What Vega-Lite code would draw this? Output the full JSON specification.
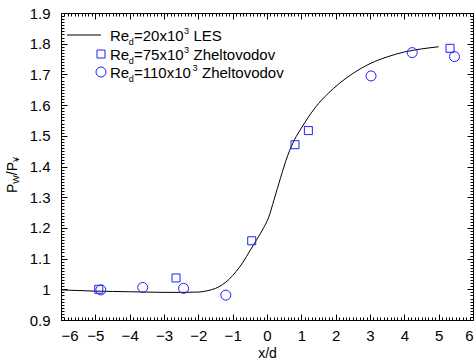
{
  "$schema": "https://vega.github.io/schema/vega-lite/v6.json",
  "width": 412,
  "height": 307,
  "autosize": {"type": "none"},
  "padding": {"left": 61, "top": 13, "right": 3, "bottom": 42},
  "background": "white",
  "config": {
    "view": {"stroke": "black", "strokeWidth": 1},
    "font": "Liberation Sans",
    "axis": {"grid": false, "domain": false, "labelColor": "black", "labelFont": "Liberation Sans", "labelFontSize": 15, "titleFont": "Liberation Sans", "titleFontSize": 15, "titleFontWeight": "normal", "titleColor": "black"}
  },
  "datasets": {
    "les": [
      {"x": -6, "y": 0.998}, {"x": -5.5, "y": 0.996}, {"x": -5, "y": 0.994}, {"x": -4.5, "y": 0.993}, {"x": -4, "y": 0.992}, {"x": -3.5, "y": 0.991}, {"x": -3, "y": 0.99}, {"x": -2.5, "y": 0.99}, {"x": -2, "y": 0.991}, {"x": -1.75, "y": 0.995}, {"x": -1.5, "y": 1.003}, {"x": -1.3, "y": 1.015}, {"x": -1.1, "y": 1.033}, {"x": -0.9, "y": 1.058}, {"x": -0.7, "y": 1.088}, {"x": -0.5, "y": 1.125}, {"x": -0.3, "y": 1.162}, {"x": -0.1, "y": 1.2}, {"x": 0.05, "y": 1.235}, {"x": 0.2, "y": 1.29}, {"x": 0.4, "y": 1.365}, {"x": 0.6, "y": 1.435}, {"x": 0.8, "y": 1.487}, {"x": 1.0, "y": 1.525}, {"x": 1.2, "y": 1.56}, {"x": 1.5, "y": 1.605}, {"x": 1.8, "y": 1.64}, {"x": 2.1, "y": 1.67}, {"x": 2.5, "y": 1.703}, {"x": 3.0, "y": 1.735}, {"x": 3.5, "y": 1.757}, {"x": 4.0, "y": 1.773}, {"x": 4.5, "y": 1.783}, {"x": 5.0, "y": 1.79}
    ],
    "sq": [
      {"x": -4.9, "y": 1.0}, {"x": -2.65, "y": 1.037}, {"x": -0.445, "y": 1.158}, {"x": 0.816, "y": 1.471}, {"x": 1.205, "y": 1.517}, {"x": 5.33, "y": 1.785}
    ],
    "ci": [
      {"x": -4.84, "y": 0.998}, {"x": -3.62, "y": 1.006}, {"x": -2.43, "y": 1.003}, {"x": -1.2, "y": 0.981}, {"x": 3.03, "y": 1.695}, {"x": 4.23, "y": 1.771}, {"x": 5.46, "y": 1.758}
    ],
    "one": [{"k": 1}]
  },
  "layer": [
    {
      "data": {"name": "les"},
      "mark": {"type": "line", "color": "black", "strokeWidth": 1, "interpolate": "monotone"},
      "encoding": {
        "x": {"field": "x", "type": "quantitative", "scale": {"domain": [-6, 6], "nice": false, "zero": false},
          "axis": {"orient": "bottom", "values": [-6, -5, -4, -3, -2, -1, 0, 1, 2, 3, 4, 5, 6], "ticks": true, "tickSize": -6, "tickColor": "black", "tickOpacity": 1, "tickWidth": 1, "zindex": 1, "labelPadding": 14, "title": "x/d", "titleFontSize": 14, "titlePadding": 3, "format": "d"}},
        "y": {"field": "y", "type": "quantitative", "scale": {"domain": [0.9, 1.9], "nice": false, "zero": false},
          "axis": {"orient": "left", "values": [0.9, 1.0, 1.1, 1.2, 1.3, 1.4, 1.5, 1.6, 1.7, 1.8, 1.9], "ticks": true, "tickSize": -6, "tickColor": "black", "tickOpacity": 1, "tickWidth": 1, "zindex": 1, "labelPadding": 17, "title": null, "format": "~g"}}
      }
    },
    {
      "data": {"name": "sq"},
      "mark": {"type": "point", "shape": "square", "size": 64, "filled": false, "stroke": "#1f1fff", "strokeWidth": 1, "opacity": 1},
      "encoding": {
        "x": {"field": "x", "type": "quantitative", "axis": {"orient": "top", "values": [-6, -5, -4, -3, -2, -1, 0, 1, 2, 3, 4, 5, 6], "ticks": true, "tickSize": -6, "tickColor": "black", "tickOpacity": 1, "tickWidth": 1, "zindex": 1, "labels": false, "title": null}},
        "y": {"field": "y", "type": "quantitative", "axis": {"orient": "right", "values": [0.9, 1.0, 1.1, 1.2, 1.3, 1.4, 1.5, 1.6, 1.7, 1.8, 1.9], "ticks": true, "tickSize": -6, "tickColor": "black", "tickOpacity": 1, "tickWidth": 1, "zindex": 1, "labels": false, "title": null}}
      }
    },
    {
      "data": {"name": "ci"},
      "mark": {"type": "point", "shape": "circle", "size": 100, "filled": false, "stroke": "#1f1fff", "strokeWidth": 1, "opacity": 1},
      "encoding": {
        "x": {"field": "x", "type": "quantitative", "axis": {"orient": "bottom", "values": [-6,-5.9,-5.8,-5.7,-5.6,-5.5,-5.4,-5.3,-5.2,-5.1,-5,-4.9,-4.8,-4.7,-4.6,-4.5,-4.4,-4.3,-4.2,-4.1,-4,-3.9,-3.8,-3.7,-3.6,-3.5,-3.4,-3.3,-3.2,-3.1,-3,-2.9,-2.8,-2.7,-2.6,-2.5,-2.4,-2.3,-2.2,-2.1,-2,-1.9,-1.8,-1.7,-1.6,-1.5,-1.4,-1.3,-1.2,-1.1,-1,-0.9,-0.8,-0.7,-0.6,-0.5,-0.4,-0.3,-0.2,-0.1,0,0.1,0.2,0.3,0.4,0.5,0.6,0.7,0.8,0.9,1,1.1,1.2,1.3,1.4,1.5,1.6,1.7,1.8,1.9,2,2.1,2.2,2.3,2.4,2.5,2.6,2.7,2.8,2.9,3,3.1,3.2,3.3,3.4,3.5,3.6,3.7,3.8,3.9,4,4.1,4.2,4.3,4.4,4.5,4.6,4.7,4.8,4.9,5,5.1,5.2,5.3,5.4,5.5,5.6,5.7,5.8,5.9,6], "ticks": true, "tickSize": -3, "tickColor": "black", "tickOpacity": 1, "tickWidth": 1, "zindex": 1, "labels": false, "title": null}},
        "y": {"field": "y", "type": "quantitative", "axis": {"orient": "left", "values": [0.9,0.91,0.92,0.93,0.94,0.95,0.96,0.97,0.98,0.99,1,1.01,1.02,1.03,1.04,1.05,1.06,1.07,1.08,1.09,1.1,1.11,1.12,1.13,1.14,1.15,1.16,1.17,1.18,1.19,1.2,1.21,1.22,1.23,1.24,1.25,1.26,1.27,1.28,1.29,1.3,1.31,1.32,1.33,1.34,1.35,1.36,1.37,1.38,1.39,1.4,1.41,1.42,1.43,1.44,1.45,1.46,1.47,1.48,1.49,1.5,1.51,1.52,1.53,1.54,1.55,1.56,1.57,1.58,1.59,1.6,1.61,1.62,1.63,1.64,1.65,1.66,1.67,1.68,1.69,1.7,1.71,1.72,1.73,1.74,1.75,1.76,1.77,1.78,1.79,1.8,1.81,1.82,1.83,1.84,1.85,1.86,1.87,1.88,1.89,1.9], "ticks": true, "tickSize": -3, "tickColor": "black", "tickOpacity": 1, "tickWidth": 1, "zindex": 1, "labels": false, "title": null}}
      }
    },
    {
      "data": {"name": "les"},
      "mark": {"type": "line", "color": "black", "strokeWidth": 1, "interpolate": "monotone", "opacity": 0},
      "encoding": {
        "x": {"field": "x", "type": "quantitative", "axis": {"orient": "top", "values": [-6,-5.9,-5.8,-5.7,-5.6,-5.5,-5.4,-5.3,-5.2,-5.1,-5,-4.9,-4.8,-4.7,-4.6,-4.5,-4.4,-4.3,-4.2,-4.1,-4,-3.9,-3.8,-3.7,-3.6,-3.5,-3.4,-3.3,-3.2,-3.1,-3,-2.9,-2.8,-2.7,-2.6,-2.5,-2.4,-2.3,-2.2,-2.1,-2,-1.9,-1.8,-1.7,-1.6,-1.5,-1.4,-1.3,-1.2,-1.1,-1,-0.9,-0.8,-0.7,-0.6,-0.5,-0.4,-0.3,-0.2,-0.1,0,0.1,0.2,0.3,0.4,0.5,0.6,0.7,0.8,0.9,1,1.1,1.2,1.3,1.4,1.5,1.6,1.7,1.8,1.9,2,2.1,2.2,2.3,2.4,2.5,2.6,2.7,2.8,2.9,3,3.1,3.2,3.3,3.4,3.5,3.6,3.7,3.8,3.9,4,4.1,4.2,4.3,4.4,4.5,4.6,4.7,4.8,4.9,5,5.1,5.2,5.3,5.4,5.5,5.6,5.7,5.8,5.9,6], "ticks": true, "tickSize": -3, "tickColor": "black", "tickOpacity": 1, "tickWidth": 1, "zindex": 1, "labels": false, "title": null}},
        "y": {"field": "y", "type": "quantitative", "axis": {"orient": "right", "values": [0.9,0.91,0.92,0.93,0.94,0.95,0.96,0.97,0.98,0.99,1,1.01,1.02,1.03,1.04,1.05,1.06,1.07,1.08,1.09,1.1,1.11,1.12,1.13,1.14,1.15,1.16,1.17,1.18,1.19,1.2,1.21,1.22,1.23,1.24,1.25,1.26,1.27,1.28,1.29,1.3,1.31,1.32,1.33,1.34,1.35,1.36,1.37,1.38,1.39,1.4,1.41,1.42,1.43,1.44,1.45,1.46,1.47,1.48,1.49,1.5,1.51,1.52,1.53,1.54,1.55,1.56,1.57,1.58,1.59,1.6,1.61,1.62,1.63,1.64,1.65,1.66,1.67,1.68,1.69,1.7,1.71,1.72,1.73,1.74,1.75,1.76,1.77,1.78,1.79,1.8,1.81,1.82,1.83,1.84,1.85,1.86,1.87,1.88,1.89,1.9], "ticks": true, "tickSize": -3, "tickColor": "black", "tickOpacity": 1, "tickWidth": 1, "zindex": 1, "labels": false, "title": null}}
      }
    },
    {
      "data": {"name": "one"},
      "mark": {"type": "rule", "color": "black", "strokeWidth": 1},
      "encoding": {"x": {"datum": -5.825, "type": "quantitative", "axis": null}, "x2": {"datum": -4.835}, "y": {"datum": 1.8283, "type": "quantitative", "axis": null}}
    },
    {
      "data": {"name": "one"},
      "mark": {"type": "point", "shape": "square", "size": 64, "filled": false, "stroke": "#1f1fff", "strokeWidth": 1, "opacity": 1},
      "encoding": {"x": {"datum": -4.835, "type": "quantitative", "axis": null}, "y": {"datum": 1.7664, "type": "quantitative", "axis": null}}
    },
    {
      "data": {"name": "one"},
      "mark": {"type": "point", "shape": "circle", "size": 100, "filled": false, "stroke": "#1f1fff", "strokeWidth": 1, "opacity": 1},
      "encoding": {"x": {"datum": -4.835, "type": "quantitative", "axis": null}, "y": {"datum": 1.7078, "type": "quantitative", "axis": null}}
    },
    {
      "data": {"values": [{"t": "Re"}]},
      "mark": {"type": "text", "font": "Liberation Sans", "fontSize": 15, "align": "left", "baseline": "alphabetic", "dy": 5.5, "color": "black"},
      "encoding": {"x": {"datum": -4.573, "type": "quantitative", "axis": null}, "y": {"datum": 1.8283, "type": "quantitative", "axis": null}, "text": {"field": "t"}}
    },
    {
      "data": {"values": [{"t": "d"}]},
      "mark": {"type": "text", "font": "Liberation Sans", "fontSize": 9, "align": "left", "baseline": "alphabetic", "dx": 18.7, "dy": 9.5, "color": "black"},
      "encoding": {"x": {"datum": -4.573, "type": "quantitative", "axis": null}, "y": {"datum": 1.8283, "type": "quantitative", "axis": null}, "text": {"field": "t"}}
    },
    {
      "data": {"values": [{"t": "=20x10"}]},
      "mark": {"type": "text", "font": "Liberation Sans", "fontSize": 15, "align": "left", "baseline": "alphabetic", "dx": 24, "dy": 5.5, "color": "black"},
      "encoding": {"x": {"datum": -4.573, "type": "quantitative", "axis": null}, "y": {"datum": 1.8283, "type": "quantitative", "axis": null}, "text": {"field": "t"}}
    },
    {
      "data": {"values": [{"t": "3"}]},
      "mark": {"type": "text", "font": "Liberation Sans", "fontSize": 9, "align": "left", "baseline": "alphabetic", "dx": 74, "dy": -1, "color": "black"},
      "encoding": {"x": {"datum": -4.573, "type": "quantitative", "axis": null}, "y": {"datum": 1.8283, "type": "quantitative", "axis": null}, "text": {"field": "t"}}
    },
    {
      "data": {"values": [{"t": "LES"}]},
      "mark": {"type": "text", "font": "Liberation Sans", "fontSize": 15, "align": "left", "baseline": "alphabetic", "dx": 83.5, "dy": 5.5, "color": "black"},
      "encoding": {"x": {"datum": -4.573, "type": "quantitative", "axis": null}, "y": {"datum": 1.8283, "type": "quantitative", "axis": null}, "text": {"field": "t"}}
    },
    {
      "data": {"values": [{"t": "Re"}]},
      "mark": {"type": "text", "font": "Liberation Sans", "fontSize": 15, "align": "left", "baseline": "alphabetic", "dy": 5.5, "color": "black"},
      "encoding": {"x": {"datum": -4.573, "type": "quantitative", "axis": null}, "y": {"datum": 1.7664, "type": "quantitative", "axis": null}, "text": {"field": "t"}}
    },
    {
      "data": {"values": [{"t": "d"}]},
      "mark": {"type": "text", "font": "Liberation Sans", "fontSize": 9, "align": "left", "baseline": "alphabetic", "dx": 18.7, "dy": 9.5, "color": "black"},
      "encoding": {"x": {"datum": -4.573, "type": "quantitative", "axis": null}, "y": {"datum": 1.7664, "type": "quantitative", "axis": null}, "text": {"field": "t"}}
    },
    {
      "data": {"values": [{"t": "=75x10"}]},
      "mark": {"type": "text", "font": "Liberation Sans", "fontSize": 15, "align": "left", "baseline": "alphabetic", "dx": 24, "dy": 5.5, "color": "black"},
      "encoding": {"x": {"datum": -4.573, "type": "quantitative", "axis": null}, "y": {"datum": 1.7664, "type": "quantitative", "axis": null}, "text": {"field": "t"}}
    },
    {
      "data": {"values": [{"t": "3"}]},
      "mark": {"type": "text", "font": "Liberation Sans", "fontSize": 9, "align": "left", "baseline": "alphabetic", "dx": 74, "dy": -1, "color": "black"},
      "encoding": {"x": {"datum": -4.573, "type": "quantitative", "axis": null}, "y": {"datum": 1.7664, "type": "quantitative", "axis": null}, "text": {"field": "t"}}
    },
    {
      "data": {"values": [{"t": "Zheltovodov"}]},
      "mark": {"type": "text", "font": "Liberation Sans", "fontSize": 15, "align": "left", "baseline": "alphabetic", "dx": 83.5, "dy": 5.5, "color": "black"},
      "encoding": {"x": {"datum": -4.573, "type": "quantitative", "axis": null}, "y": {"datum": 1.7664, "type": "quantitative", "axis": null}, "text": {"field": "t"}}
    },
    {
      "data": {"values": [{"t": "Re"}]},
      "mark": {"type": "text", "font": "Liberation Sans", "fontSize": 15, "align": "left", "baseline": "alphabetic", "dy": 5.5, "color": "black"},
      "encoding": {"x": {"datum": -4.573, "type": "quantitative", "axis": null}, "y": {"datum": 1.7078, "type": "quantitative", "axis": null}, "text": {"field": "t"}}
    },
    {
      "data": {"values": [{"t": "d"}]},
      "mark": {"type": "text", "font": "Liberation Sans", "fontSize": 9, "align": "left", "baseline": "alphabetic", "dx": 18.7, "dy": 9.5, "color": "black"},
      "encoding": {"x": {"datum": -4.573, "type": "quantitative", "axis": null}, "y": {"datum": 1.7078, "type": "quantitative", "axis": null}, "text": {"field": "t"}}
    },
    {
      "data": {"values": [{"t": "=110x10"}]},
      "mark": {"type": "text", "font": "Liberation Sans", "fontSize": 15, "align": "left", "baseline": "alphabetic", "dx": 24, "dy": 5.5, "color": "black"},
      "encoding": {"x": {"datum": -4.573, "type": "quantitative", "axis": null}, "y": {"datum": 1.7078, "type": "quantitative", "axis": null}, "text": {"field": "t"}}
    },
    {
      "data": {"values": [{"t": "3"}]},
      "mark": {"type": "text", "font": "Liberation Sans", "fontSize": 9, "align": "left", "baseline": "alphabetic", "dx": 82.5, "dy": -1, "color": "black"},
      "encoding": {"x": {"datum": -4.573, "type": "quantitative", "axis": null}, "y": {"datum": 1.7078, "type": "quantitative", "axis": null}, "text": {"field": "t"}}
    },
    {
      "data": {"values": [{"t": "Zheltovodov"}]},
      "mark": {"type": "text", "font": "Liberation Sans", "fontSize": 15, "align": "left", "baseline": "alphabetic", "dx": 92, "dy": 5.5, "color": "black"},
      "encoding": {"x": {"datum": -4.573, "type": "quantitative", "axis": null}, "y": {"datum": 1.7078, "type": "quantitative", "axis": null}, "text": {"field": "t"}}
    },
    {
      "data": {"values": [{"t": "P"}]},
      "mark": {"type": "text", "font": "Liberation Sans", "fontSize": 14, "align": "left", "baseline": "alphabetic", "angle": 270, "dx": 0, "dy": -44, "color": "black"},
      "encoding": {"x": {"datum": -6, "type": "quantitative", "axis": null}, "y": {"datum": 1.3137, "type": "quantitative", "axis": null}, "text": {"field": "t"}}
    },
    {
      "data": {"values": [{"t": "W"}]},
      "mark": {"type": "text", "font": "Liberation Sans", "fontSize": 9, "align": "left", "baseline": "alphabetic", "angle": 270, "dx": 9.3, "dy": -42, "color": "black"},
      "encoding": {"x": {"datum": -6, "type": "quantitative", "axis": null}, "y": {"datum": 1.3137, "type": "quantitative", "axis": null}, "text": {"field": "t"}}
    },
    {
      "data": {"values": [{"t": "/P"}]},
      "mark": {"type": "text", "font": "Liberation Sans", "fontSize": 14, "align": "left", "baseline": "alphabetic", "angle": 270, "dx": 17.8, "dy": -44, "color": "black"},
      "encoding": {"x": {"datum": -6, "type": "quantitative", "axis": null}, "y": {"datum": 1.3137, "type": "quantitative", "axis": null}, "text": {"field": "t"}}
    },
    {
      "data": {"values": [{"t": "¥"}]},
      "mark": {"type": "text", "font": "Liberation Sans", "fontSize": 9, "align": "left", "baseline": "alphabetic", "angle": 270, "dx": 31, "dy": -42, "color": "black"},
      "encoding": {"x": {"datum": -6, "type": "quantitative", "axis": null}, "y": {"datum": 1.3137, "type": "quantitative", "axis": null}, "text": {"field": "t"}}
    }
  ],
  "resolve": {"axis": {"x": "independent", "y": "independent"}}
}
